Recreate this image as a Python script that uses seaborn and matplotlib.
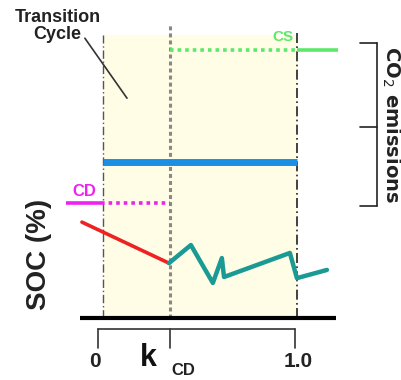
import matplotlib
matplotlib.use("Agg")
import matplotlib.pyplot as plt
import seaborn as sns
import numpy as np

# x in units of k (0 .. 1.0), y in arbitrary units (bottom axis = 0, shaded top = 100)
k_cd = 0.35

red_x = [-0.097, 0.347]
red_y = [33.9, 19.4]

teal_x = [0.347, 0.459, 0.571, 0.617, 0.628, 0.964, 1.0, 1.153]
teal_y = [19.4, 25.8, 12.4, 21.2, 14.5, 23.0, 14.1, 17.0]

cd_level = 40.6
blue_level = 55.1
cs_level = 94.7

bracket_ticks = [97.2, 67.5, 39.6]

sns.set_style("white")
plt.rcParams['font.family'] = ['Liberation Sans', 'DejaVu Sans']

fig = plt.figure(figsize=(4.01, 3.80), dpi=100)
ax = fig.add_axes([0, 0, 1, 1])
ax.set_xlim(-0.515, 1.531)
ax.set_ylim(-21.9, 112.4)
ax.axis('off')

# transition cycle shading
ax.fill_between([0.01, 1.0], 0, 100, color='#fffde6', zorder=0)

# vertical guides
ax.plot([0.01, 0.01], [0, 100], color='#555555', lw=1, ls=(0, (6, 2, 1, 2)), zorder=1)
ax.plot([k_cd, k_cd], [0, 104], color='#888888', lw=2.2, ls=(0, (1.3, 1)), zorder=1)
ax.plot([1.0, 1.0], [0, 101.8], color='#222222', lw=1.2, ls=(0, (6, 2, 1, 2)), zorder=1)

# CS line (green)
sns.lineplot(x=[k_cd, 1.0], y=[cs_level, cs_level], ax=ax, color='#5ce86a', lw=2.6,
             linestyle=(0, (1, 1.1)), zorder=3)
sns.lineplot(x=[1.0, 1.209], y=[cs_level, cs_level], ax=ax, color='#5ce86a', lw=2.6,
             solid_capstyle='butt', zorder=3)

# blue line
sns.lineplot(x=[0.01, 1.0], y=[blue_level, blue_level], ax=ax, color='#1a8fe3', lw=5,
             solid_capstyle='butt', zorder=3)

# CD line (magenta)
sns.lineplot(x=[-0.179, 0.0], y=[cd_level, cd_level], ax=ax, color='#ee22ee', lw=2.6,
             solid_capstyle='butt', zorder=3)
sns.lineplot(x=[0.0, k_cd], y=[cd_level, cd_level], ax=ax, color='#ee22ee', lw=2.6,
             linestyle=(0, (1, 1.1)), zorder=3)

# SOC lines
sns.lineplot(x=red_x, y=red_y, ax=ax, color='#ee2222', lw=2.6, zorder=4, sort=False)
sns.lineplot(x=teal_x, y=teal_y, ax=ax, color='#1a9a94', lw=3.2, zorder=4, sort=False)

# bottom axis
ax.plot([-0.107, 1.2], [0, 0], color='black', lw=3, solid_capstyle='butt', zorder=5)
ax.plot([-0.015, 0.99], [-3.9, -3.9], color='#333333', lw=1.2, zorder=5)
for t in [-0.015, k_cd + 0.003, 0.99]:
    ax.plot([t, t], [-3.9, -10.6], color='#333333', lw=1.2, zorder=5)

ax.text(-0.03, -15.4, "0", ha='center', va='center', fontsize=15, fontweight='bold',
        color='#222222', family=['Liberation Sans Narrow', 'Liberation Sans'])
ax.text(1.005, -15.4, "1.0", ha='center', va='center', fontsize=15, fontweight='bold',
        color='#222222', family=['Liberation Sans Narrow', 'Liberation Sans'])
ax.text(0.24, -14.1, "k", ha='center', va='center', fontsize=22, fontweight='bold', color='#111111')
ax.text(0.418, -18.6, "CD", ha='center', va='center', fontsize=12, fontweight='bold', color='#222222')

# right bracket: CO2 emissions
ax.plot([1.408, 1.408], [bracket_ticks[0], bracket_ticks[-1]], color='#222222', lw=1.2)
for b in bracket_ticks:
    ax.plot([1.321, 1.408], [b, b], color='#222222', lw=1.2)
ax.text(1.482, 68.4, "CO$_2$ emissions", rotation=-90, ha='center', va='center',
        fontsize=14, fontweight='bold', color='#222222', family=['DejaVu Sans'])

# left label
ax.text(-0.316, 22.6, "SOC (%)", rotation=90, ha='center', va='center',
        fontsize=20, fontweight='bold', color='#222222')

# series labels
ax.text(0.929, 99.3, "CS", ha='center', va='center', fontsize=11, fontweight='bold', color='#5ce86a')
ax.text(-0.085, 44.6, "CD", ha='center', va='center', fontsize=12, fontweight='bold', color='#ee22ee')

# transition cycle annotation
ax.text(-0.222, 103.2, "Transition\nCycle", ha='center', va='center', fontsize=13,
        fontweight='bold', color='#222222', linespacing=0.95)
ax.plot([-0.082, 0.133], [98.9, 77.7], color='#333333', lw=1.2)

fig.savefig("out.png", dpi=100)
